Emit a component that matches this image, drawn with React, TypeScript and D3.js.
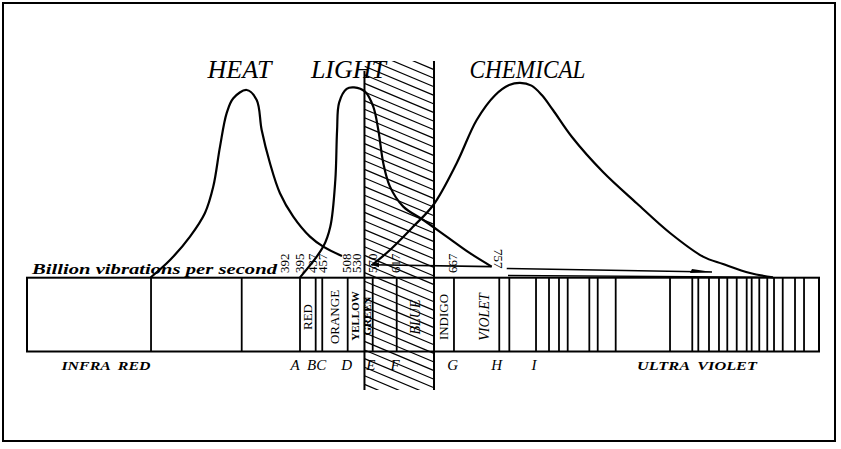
import React from 'react';
import * as d3 from 'd3';

// positions along the spectrum strip, 0 = left end, 1000 = right end
const spectrumLines = [156.6, 271.1, 344.7, 364.5, 372.8, 404.9, 436.5, 466.8, 539.1, 596.3, 609.0, 642.7,
  659.1, 671.7, 682.7, 710.0, 720.6, 743.3, 811.9, 840.0, 847.6, 861.1, 873.7, 884.2, 896.1, 908.7, 915.0,
  924.6, 934.7, 943.2, 954.2, 969.7, 981.1];
const hatchBand = [426.1, 513.9];

// [position, intensity]
const heatCurve: [number, number][] = [
  [155.3, 0], [180.6, 9], [205.8, 20.7], [224.7, 32.5], [235.2, 45.7], [243.7, 65.7], [252.1, 82.4],
  [260.5, 89.9], [277.4, 94], [290.0, 89], [296.3, 74], [306.8, 57.4], [319.4, 42.4], [336.2, 30.7],
  [357.3, 20.7], [374.1, 15.7], [397.7, 11],
];
const lightCurve: [number, number][] = [
  [344.7, 0.3], [374.1, 15.7], [383.0, 25.7], [389.3, 49], [391.5, 73.7], [394.1, 87.7], [403.6, 94.6],
  [413.0, 95.3], [426.8, 93.2], [437.2, 85.7], [443.6, 74], [449.9, 57.4], [458.3, 45.7], [475.1, 35.7],
  [500.4, 29], [529.9, 20.7], [559.3, 12.4], [586.7, 5.7],
];
const lightReturn: [number, number][] = [[586.7, 5.7], [434.3, 6.6]];
const chemicalCurve: [number, number][] = [
  [435.6, 6.5], [458.3, 14], [487.7, 25.7], [513.0, 36.5], [542.5, 57.4], [567.8, 79], [591.0, 91.4],
  [608.8, 96.5], [622.5, 97.6], [637.0, 96.2], [650.0, 91.5], [664.1, 84], [688.1, 70.5], [727.3, 53],
  [769.8, 37.4], [811.9, 22.5], [853.5, 10.7], [878.8, 7], [912.9, 2.5], [941.9, 0.3],
];
const upperArrow: [number, number][] = [[605.7, 4.75], [864.9, 3]];
const lowerArrow: [number, number][] = [[607.3, 1.25], [938.1, 0.4]];

const curveTitles = ['HEAT', 'LIGHT', 'CHEMICAL'];
const curveTitlePos = [268.3, 405.9, 631.9];

const freqLabels = ['392', '395', '437', '457', '508', '530', '570', '617', '667', '757'];
const freqPos = [325.8, 344.7, 361.1, 373.7, 403.7, 416.7, 436.9, 465.9, 537.9, 594.7];

const colorNames = ['RED', 'ORANGE', 'YELLOW', 'GREEN', 'BLUE', 'INDIGO', 'VIOLET'];
const colorPos = [354.8, 388.3, 414.1, 429.3, 489.9, 526.5, 577.0];

const lineLetters = ['A', 'BC', 'D', 'E', 'F', 'G', 'H', 'I'];
const letterPos = [338.4, 365.7, 403.7, 434.0, 464.6, 537.5, 593.0, 640.2];

const regionNames = ['INFRA  RED', 'ULTRA  VIOLET'];
const regionPos = [99.7, 845.9];

const W = 841;
const H = 449;
const barTop = 277.7;
const barBottom = 351.5;
const serif = '"Liberation Serif", "DejaVu Serif", serif';

export default function App() {
  const x = d3.scaleLinear().domain([0, 1000]).range([27, 819]);
  const y = d3.scaleLinear().domain([0, 100]).range([278, 78]);

  const curve = d3.line<[number, number]>()
    .x(d => x(d[0]))
    .y(d => y(d[1]))
    .curve(d3.curveCatmullRom.alpha(0.5));
  const straight = d3.line<[number, number]>().x(d => x(d[0])).y(d => y(d[1]));

  const bandL = x(hatchBand[0]);
  const bandR = x(hatchBand[1]);
  const bandTop = 61;
  const bandBottom = 390;
  const slope = 0.42;
  const hatchStarts = d3.range(bandTop - (bandR - bandL) * slope, bandBottom, 8.6);

  const ua = upperArrow.map(d => [x(d[0]), y(d[1])]);

  return (
    <svg width={W} height={H} style={{ position: 'absolute', left: 0, top: 0, background: '#fff' }}>
      <defs>
        <clipPath id="band">
          <rect x={bandL} y={bandTop} width={bandR - bandL} height={bandBottom - bandTop} />
        </clipPath>
      </defs>
      <rect x={3} y={3} width={832} height={438} fill="none" stroke="#000" strokeWidth={2} />

      {/* curve titles */}
      {curveTitles.map((t, i) => (
        <text key={t} x={x(curveTitlePos[i])} y={78} textAnchor="middle" fontFamily={serif}
          fontStyle="italic" fontSize={26} textLength={t === 'CHEMICAL' ? 116 : undefined}
          lengthAdjust="spacingAndGlyphs">{t}</text>
      ))}

      {/* hatched band */}
      <g clipPath="url(#band)" stroke="#000" strokeWidth={1.2}>
        {hatchStarts.map((s, i) => (
          <line key={i} x1={bandL} y1={s} x2={bandR} y2={s + (bandR - bandL) * slope} />
        ))}
      </g>
      <line x1={bandL} y1={bandTop + 10} x2={bandL} y2={bandBottom} stroke="#000" strokeWidth={2} />
      <line x1={bandR} y1={bandTop} x2={bandR} y2={bandBottom} stroke="#000" strokeWidth={2} />

      {/* spectrum strip */}
      <rect x={x(0)} y={barTop} width={x(1000) - x(0)} height={barBottom - barTop} fill="none"
        stroke="#000" strokeWidth={2} />
      {spectrumLines.map((d, i) => (
        <line key={i} x1={x(d)} x2={x(d)} y1={barTop} y2={barBottom} stroke="#000" strokeWidth={1.8} />
      ))}

      {/* curves */}
      <g fill="none" stroke="#000" strokeWidth={2.2} strokeLinejoin="round">
        <path d={curve(heatCurve) || ''} />
        <path d={curve(lightCurve) || ''} />
        <path d={curve(chemicalCurve) || ''} />
        <path d={straight(lightReturn) || ''} strokeWidth={1.6} />
        <path d={straight(upperArrow) || ''} strokeWidth={1.6} />
        <path d={straight(lowerArrow) || ''} strokeWidth={1.4} />
      </g>
      <path d={`M${ua[1][0]},${ua[1][1]} L${ua[1][0] - 20},${ua[1][1] - 3} L${ua[1][0] - 22},${ua[1][1] + 1} Z`}
        fill="#000" />
      <path d={`M${x(lightReturn[1][0])},${y(lightReturn[1][1])} l8,-2.5 l0,5 Z`} fill="#000" />

      {/* axis caption */}
      <text x={32} y={274} fontFamily={serif} fontStyle="italic" fontWeight="bold" fontSize={15}
        textLength={245} lengthAdjust="spacingAndGlyphs">Billion vibrations per second</text>

      {/* frequency numbers */}
      {freqLabels.map((t, i) => {
        const px = x(freqPos[i]);
        if (t === '757') {
          return (
            <text key={t} transform={`translate(${px - 4},249) rotate(90)`} fontFamily={serif} fontSize={13}>{t}</text>
          );
        }
        return (
          <text key={t} transform={`translate(${px + 4},273) rotate(-90)`} fontFamily={serif} fontSize={13}>{t}</text>
        );
      })}

      {/* colour names inside the strip */}
      {colorNames.map((t, i) => {
        const italic = t === 'BLUE' || t === 'VIOLET';
        const small = t === 'YELLOW' || t === 'GREEN';
        const size = small ? 11 : italic ? 14 : 13;
        return (
          <text key={t} transform={`translate(${x(colorPos[i]) + size * 0.33},${small ? 316 : 317}) rotate(-90)`}
            textAnchor="middle" fontFamily={serif} fontSize={size} fontStyle={italic ? 'italic' : 'normal'}
            fontWeight={small ? 'bold' : 'normal'}>{t}</text>
        );
      })}

      {/* Fraunhofer letters */}
      {lineLetters.map((t, i) => (
        <text key={t} x={x(letterPos[i])} y={370} textAnchor="middle" fontFamily={serif}
          fontStyle="italic" fontSize={15}>{t}</text>
      ))}

      {regionNames.map((t, i) => (
        <text key={t} x={x(regionPos[i])} y={370} textAnchor="middle" fontFamily={serif} fontStyle="italic"
          fontWeight="bold" fontSize={13} style={{ whiteSpace: 'pre' }}
          textLength={i === 0 ? 89 : 120} lengthAdjust="spacingAndGlyphs">{t}</text>
      ))}
    </svg>
  );
}
